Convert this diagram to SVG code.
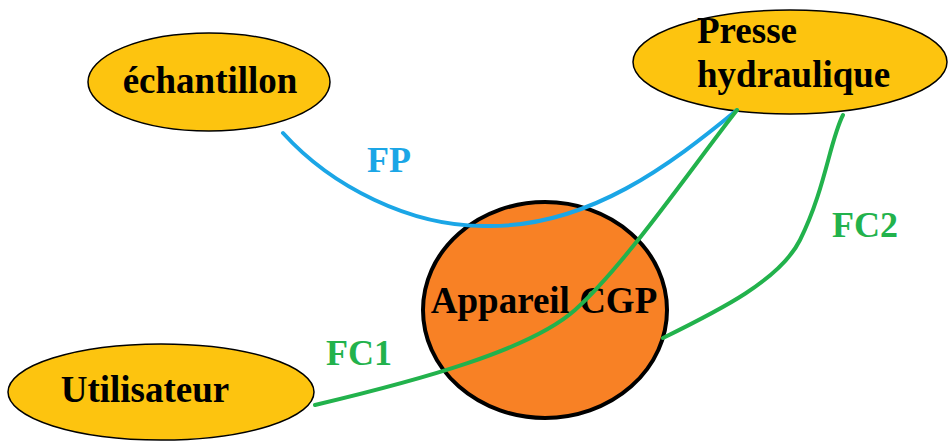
<svg xmlns="http://www.w3.org/2000/svg" width="950" height="446" viewBox="0 0 950 446">
<style>
.node{fill:#FDC40F;stroke:#000;stroke-width:1.5}
.sys{fill:#F88125;stroke:#000;stroke-width:4}
.t{font-family:"Liberation Serif",serif;font-weight:bold;font-size:37px;fill:#000}
.lbl{font-family:"Liberation Serif",serif;font-weight:bold;font-size:36px}
.c{fill:none;stroke-width:4;stroke-linecap:round}
</style>
<rect width="950" height="446" fill="#fff"/>
<g id="echantillon">
<ellipse class="node" cx="209" cy="82" rx="121" ry="49"/>
<text class="t" x="210" y="93" text-anchor="middle">échantillon</text>
</g>
<g id="presse">
<ellipse class="node" cx="790" cy="62" rx="157" ry="52"/>
<text class="t" x="697" y="43">Presse</text>
<text class="t" x="697" y="87">hydraulique</text>
</g>
<g id="utilisateur">
<ellipse class="node" cx="161" cy="392" rx="153" ry="48"/>
<text class="t" x="145" y="402" text-anchor="middle">Utilisateur</text>
</g>
<g id="appareil">
<ellipse class="sys" cx="545" cy="310" rx="122" ry="108"/>
<text class="t" x="544" y="313" text-anchor="middle">Appareil CGP</text>
</g>
<g id="connectors">
<path class="c" stroke="#1BA6E6" d="M283,133 C330,185 410,228 490,226 C590,226 670,165 737,110"/>
<path class="c" stroke="#22B24C" stroke-width="3.5" d="M315,405 C420,380 530,350 575,310 C625,265 690,170 737,110"/>
<path class="c" stroke="#22B24C" stroke-width="3.5" d="M663,338 C720,310 780,280 800,240 C825,190 830,140 843,115"/>
<text class="lbl" x="367" y="172" fill="#1BA6E6">FP</text>
<text class="lbl" x="832" y="237" fill="#22B24C">FC2</text>
<text class="lbl" x="326" y="365" fill="#22B24C">FC1</text>
</g>
</svg>
